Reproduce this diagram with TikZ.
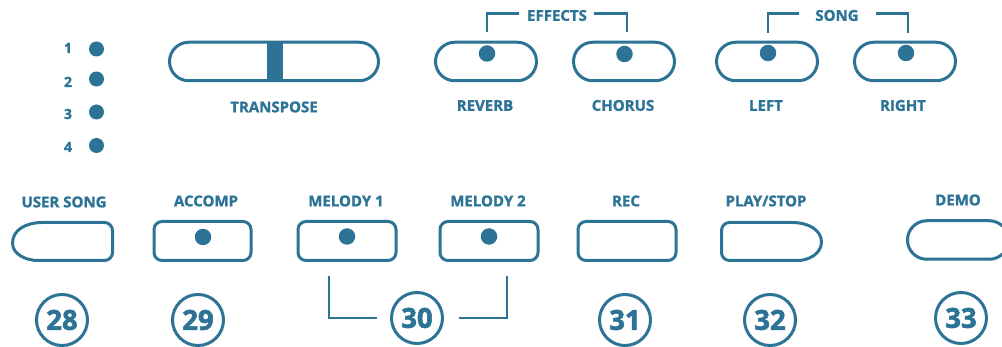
\documentclass[tikz,border=0pt]{standalone}
\usepackage{fontspec}
\setmainfont{Open Sans}[BoldFeatures={FakeBold=1.2}]
\newfontfamily\numfont{Open Sans}[BoldFeatures={FakeBold=2.2}]
\usetikzlibrary{shapes.misc}
\definecolor{pc}{RGB}{44,115,150}
\begin{document}
\begin{tikzpicture}[x=1pt,y=-1pt,
  lbl/.style={font=\fontsize{15}{17}\selectfont\bfseries, text=pc, inner sep=0pt, text height=10.7pt, text depth=0pt},
  ledlbl/.style={font=\fontsize{14}{16}\selectfont\bfseries, text=pc, inner sep=0pt, text height=10pt, text depth=0pt},
  num/.style={circle, draw=pc, line width=3pt, minimum size=51pt, inner sep=0pt, font=\numfont\fontsize{27.5}{30}\selectfont\bfseries, text=pc, text height=19.6pt, text depth=0pt},
  pill/.style={rounded rectangle, draw=pc, line width=3pt, minimum width=101pt, minimum height=38.5pt, inner sep=0pt},
  rbox/.style={rectangle, rounded corners=8pt, draw=pc, line width=3pt, minimum width=97pt, minimum height=39pt, inner sep=0pt},
  btn/.style={draw=pc, line width=3pt, line join=round},
  led/.style={circle, fill=pc, minimum size=16.5pt, inner sep=0pt},
  bracket/.style={draw=pc, line width=2.7pt}]
\clip (0,0) rectangle (1002,347);
\fill[white] (0,0) rectangle (1002,347);

% LED indicators
\node[ledlbl] (l1) at (68,48) {1};
\node[ledlbl] (l2) at (68,82) {2};
\node[ledlbl] (l3) at (68,114) {3};
\node[ledlbl] (l4) at (68,147) {4};
\node[led, minimum size=15pt] (d1) at (96.5,49) {};
\node[led, minimum size=15pt] (d2) at (96.5,79) {};
\node[led, minimum size=15pt] (d3) at (96.5,112) {};
\node[led, minimum size=15pt] (d4) at (96.5,145.5) {};

% Transpose
\node[pill, minimum width=209pt] (tr) at (274,61.5) {};
\fill[pc] (266.5,42) rectangle (283,81);
\node[lbl] (trl) at (274,107) {TRANSPOSE};

% Effects
\node[pill] (rev) at (486,61.5) {};
\node[pill] (cho) at (624,61.5) {};
\node[led] (revd) at (487,53.5) {};
\node[led] (chod) at (624.5,54) {};
\node[lbl] (revl) at (485,105.5) {REVERB};
\node[lbl] (chol) at (623,105.5) {CHORUS};
\node[lbl] (eff) at (557,15.5) {EFFECTS};
\coordinate (e1) at (487,32); \coordinate (e2) at (487,13.5); \coordinate (e3) at (519,13.5);
\coordinate (e4) at (594,13.5); \coordinate (e5) at (627,13.5); \coordinate (e6) at (627,32);
\draw[bracket] (e1) -- (e2) -- (e3);
\draw[bracket] (e4) -- (e5) -- (e6);

% Song
\node[pill] (left) at (767,61.5) {};
\node[pill] (right) at (905,61.5) {};
\node[led] (leftd) at (768,53) {};
\node[led] (rightd) at (906,53) {};
\node[lbl] (leftl) at (766,105.5) {LEFT};
\node[lbl] (rightl) at (903,105.5) {RIGHT};
\node[lbl] (song) at (837,15.5) {SONG};
\coordinate (s1) at (768,33); \coordinate (s2) at (768,13.5); \coordinate (s3) at (799,13.5);
\coordinate (s4) at (876,13.5); \coordinate (s5) at (908,13.5); \coordinate (s6) at (908,33);
\draw[bracket] (s1) -- (s2) -- (s3);
\draw[bracket] (s4) -- (s5) -- (s6);

% Bottom row labels
\node[lbl] (usl) at (64,202) {USER SONG};
\node[lbl] (acl) at (206,201) {ACCOMP};
\node[lbl] (m1l) at (346,201) {MELODY 1};
\node[lbl] (m2l) at (488,201) {MELODY 2};
\node[lbl] (recl) at (626,201) {REC};
\node[lbl] (psl) at (766,201) {PLAY/STOP};
\node[lbl] (deml) at (958,200) {DEMO};

% Bottom row buttons
\draw[btn] (12.5,243) .. controls (12.5,230) and (26,222.5) .. (42,222.5)
  [rounded corners=8pt] -- (112.5,222.5) -- (112.5,260.5) -- (46,260.5)
  [sharp corners] .. controls (27,260.5) and (12.5,255) .. (12.5,243) -- cycle;
\node[rbox] (acc) at (202.5,241) {};
\node[led] (accd) at (203,237) {};
\node[rbox, minimum width=98pt] (m1) at (347,241) {};
\node[led] (m1d) at (347,236.5) {};
\node[rbox, minimum width=98pt] (m2) at (489,241) {};
\node[led] (m2d) at (489,236.5) {};
\node[rbox, minimum width=98pt] (rec) at (627,241) {};
\draw[btn] (821.5,242) .. controls (821.5,230) and (808,222.5) .. (793,222.5)
  [rounded corners=8pt] -- (721.5,222.5) -- (721.5,260.5) -- (790,260.5)
  [sharp corners] .. controls (808,260.5) and (821.5,254) .. (821.5,242) -- cycle;
\node[pill] (demo) at (958,240) {};

% Numbers
\node[num] (n28) at (62,320) {28};
\node[num] (n29) at (198,320) {29};
\node[num] (n30) at (417,318) {30};
\node[num] (n31) at (625,320) {31};
\node[num] (n32) at (770,320) {32};
\node[num] (n33) at (961,318) {33};
\coordinate (b1) at (329,276); \coordinate (b2) at (329,318); \coordinate (b3) at (377,318);
\coordinate (b4) at (459,318); \coordinate (b5) at (507,318); \coordinate (b6) at (507,276);
\draw[bracket] (b1) -- (b2) -- (b3);
\draw[bracket] (b4) -- (b5) -- (b6);
\end{tikzpicture}
\end{document}
